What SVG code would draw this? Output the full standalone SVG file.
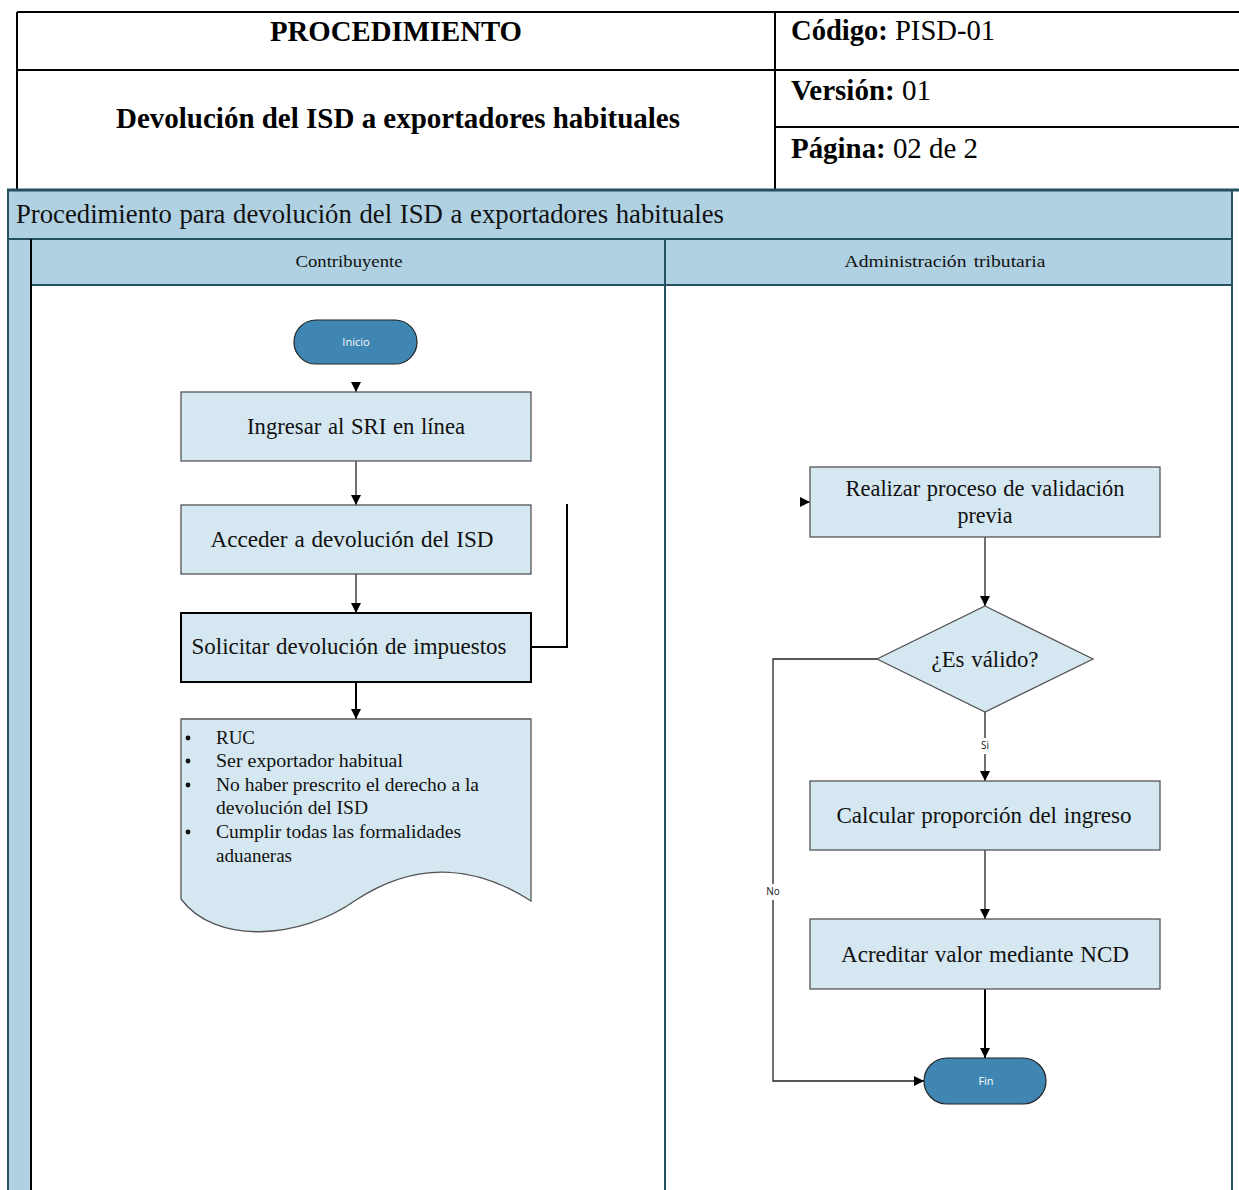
<svg xmlns="http://www.w3.org/2000/svg" width="1239" height="1190" viewBox="0 0 1239 1190">
<style>
.hdr{font-family:"Liberation Serif",Tinos,"Times New Roman",serif;font-size:28.5px;fill:#000}
.b{font-weight:bold}
.pool{fill:#b0d1e2}
.dk{stroke:#24505f;fill:none}
.box{fill:#d5e7f0;stroke:#555;stroke-width:1.3}
.box2{fill:#d5e7f0;stroke:#000;stroke-width:2}
.t{font-family:"Liberation Serif",Tinos,"Times New Roman",serif;font-size:22.5px;fill:#111;text-anchor:middle;word-spacing:1px}
.lt{font-family:"Liberation Serif",Tinos,"Times New Roman",serif;font-size:19.5px;fill:#111}
.sf{font-family:"Liberation Serif",Tinos,"Times New Roman",serif;fill:#111}
.term{fill:#3f86b3;stroke:#222;stroke-width:1.2}
.tt{font-family:"Open Sans","DejaVu Sans",sans-serif;font-size:11px;fill:#fff;text-anchor:middle}
.lab{font-family:"Open Sans","DejaVu Sans",sans-serif;font-size:10px;fill:#111;text-anchor:middle}
.c{fill:none;stroke:#222;stroke-width:1.3}
.ck{fill:none;stroke:#000;stroke-width:2}
</style>
<defs>
<marker id="ah" viewBox="0 0 10 10" refX="10" refY="5" markerWidth="10" markerHeight="10" markerUnits="userSpaceOnUse" orient="auto">
<path d="M0,0 L10,5 L0,10 Z" fill="#000"/>
</marker>
</defs>
<rect width="1239" height="1190" fill="#fff"/>
<g id="header">
<path d="M17,12 H1239 M17,12 V189 M775,12 V189 M17,70 H1239 M775,127 H1239" stroke="#000" stroke-width="2" fill="none"/>
<text class="hdr b" x="396" y="41" text-anchor="middle" textLength="252" lengthAdjust="spacingAndGlyphs">PROCEDIMIENTO</text>
<text class="hdr b" x="398" y="128" text-anchor="middle" textLength="564" lengthAdjust="spacingAndGlyphs">Devolución del ISD a exportadores habituales</text>
<text class="hdr" x="791" y="40" textLength="204" lengthAdjust="spacingAndGlyphs"><tspan font-weight="bold">Código:</tspan> PISD-01</text>
<text class="hdr" x="791" y="100" textLength="140" lengthAdjust="spacingAndGlyphs"><tspan font-weight="bold">Versión:</tspan> 01</text>
<text class="hdr" x="791" y="158" textLength="187" lengthAdjust="spacingAndGlyphs"><tspan font-weight="bold">Página:</tspan> 02 de 2</text>
</g>
<g id="pool">
<rect class="pool" x="7" y="190" width="1225" height="95"/>
<rect class="pool" x="7" y="285" width="24" height="905"/>
<path class="dk" d="M7,190 H1239" stroke-width="3"/>
<path class="dk" d="M8,190 V1190 M1232,190 V1190 M7,239 H1232 M31,285 H1232 M665,239 V1190" stroke-width="2"/>
<path d="M31,239 V1190" stroke="#000" stroke-width="2"/>
<text class="sf" x="16" y="223" font-size="26.5" word-spacing="1" textLength="708" lengthAdjust="spacingAndGlyphs">Procedimiento para devolución del ISD a exportadores habituales</text>
<text class="sf" x="349" y="267" font-size="17" text-anchor="middle" textLength="107" lengthAdjust="spacingAndGlyphs">Contribuyente</text>
<text class="sf" x="945" y="267" font-size="17" text-anchor="middle" word-spacing="2" textLength="201" lengthAdjust="spacingAndGlyphs">Administración tributaria</text>
</g>
<g id="connectors">
<path class="c" d="M356,383 V392" marker-end="url(#ah)"/>
<path class="c" d="M356,461 V505" marker-end="url(#ah)"/>
<path class="c" d="M356,574 V613" marker-end="url(#ah)"/>
<path class="ck" d="M531,647 H567 V504"/>
<path class="ck" d="M356,682 V719" marker-end="url(#ah)"/>
<path class="c" d="M800,502 H810" marker-end="url(#ah)"/>
<path class="c" d="M985,537 V606" marker-end="url(#ah)"/>
<path class="c" d="M985,712 V738 M985,754 V781" marker-end="url(#ah)"/>
<text class="lab" x="985" y="749">Si</text>
<path class="c" d="M985,850 V919" marker-end="url(#ah)"/>
<path class="ck" d="M985,989 V1058" marker-end="url(#ah)"/>
<path class="c" d="M877,659 H773 V884 M773,900 V1081 H924" marker-end="url(#ah)"/>
<text class="lab" x="773" y="895">No</text>
</g>
<g id="inicio">
<rect class="term" x="294" y="320" width="123" height="44" rx="22"/>
<text class="tt" x="356" y="346">Inicio</text>
</g>
<g id="ingresar">
<rect class="box" x="181" y="392" width="350" height="69"/>
<text class="t" x="356" y="434" textLength="218" lengthAdjust="spacingAndGlyphs">Ingresar al SRI en línea</text>
</g>
<g id="acceder">
<rect class="box" x="181" y="505" width="350" height="69"/>
<text class="t" x="352" y="547" textLength="283" lengthAdjust="spacingAndGlyphs">Acceder a devolución del ISD</text>
</g>
<g id="solicitar">
<rect class="box2" x="181" y="613" width="350" height="69"/>
<text class="t" x="349" y="654" textLength="315" lengthAdjust="spacingAndGlyphs">Solicitar devolución de impuestos</text>
</g>
<g id="requisitos">
<path class="box" d="M181,719 H531 V901 C480,868 420,858 356,900 C300,940 215,945 181,899 Z"/>
<circle cx="188" cy="738" r="2.4" fill="#111"/>
<circle cx="188" cy="761" r="2.4" fill="#111"/>
<circle cx="188" cy="785" r="2.4" fill="#111"/>
<circle cx="188" cy="832" r="2.4" fill="#111"/>
<text class="lt" x="216" y="744" textLength="39" lengthAdjust="spacingAndGlyphs">RUC</text>
<text class="lt" x="216" y="767" textLength="187" lengthAdjust="spacingAndGlyphs">Ser exportador habitual</text>
<text class="lt" x="216" y="791" textLength="263" lengthAdjust="spacingAndGlyphs">No haber prescrito el derecho a la</text>
<text class="lt" x="216" y="814" textLength="152" lengthAdjust="spacingAndGlyphs">devolución del ISD</text>
<text class="lt" x="216" y="838" textLength="245" lengthAdjust="spacingAndGlyphs">Cumplir todas las formalidades</text>
<text class="lt" x="216" y="862" textLength="76" lengthAdjust="spacingAndGlyphs">aduaneras</text>
</g>
<g id="validacion">
<rect class="box" x="810" y="467" width="350" height="70"/>
<text class="t" x="985" y="496" textLength="279" lengthAdjust="spacingAndGlyphs">Realizar proceso de validación</text>
<text class="t" x="985" y="523" textLength="55" lengthAdjust="spacingAndGlyphs">previa</text>
</g>
<g id="esvalido">
<path class="box" d="M985,606 L1093,659 L985,712 L877,659 Z"/>
<text class="t" x="985" y="667" textLength="107" lengthAdjust="spacingAndGlyphs">¿Es válido?</text>
</g>
<g id="calcular">
<rect class="box" x="810" y="781" width="350" height="69"/>
<text class="t" x="984" y="823" textLength="295" lengthAdjust="spacingAndGlyphs">Calcular proporción del ingreso</text>
</g>
<g id="acreditar">
<rect class="box" x="810" y="919" width="350" height="70"/>
<text class="t" x="985" y="962" textLength="288" lengthAdjust="spacingAndGlyphs">Acreditar valor mediante NCD</text>
</g>
<g id="fin">
<rect class="term" x="924" y="1058" width="122" height="46" rx="23"/>
<text class="tt" x="986" y="1085">Fin</text>
</g>
</svg>
